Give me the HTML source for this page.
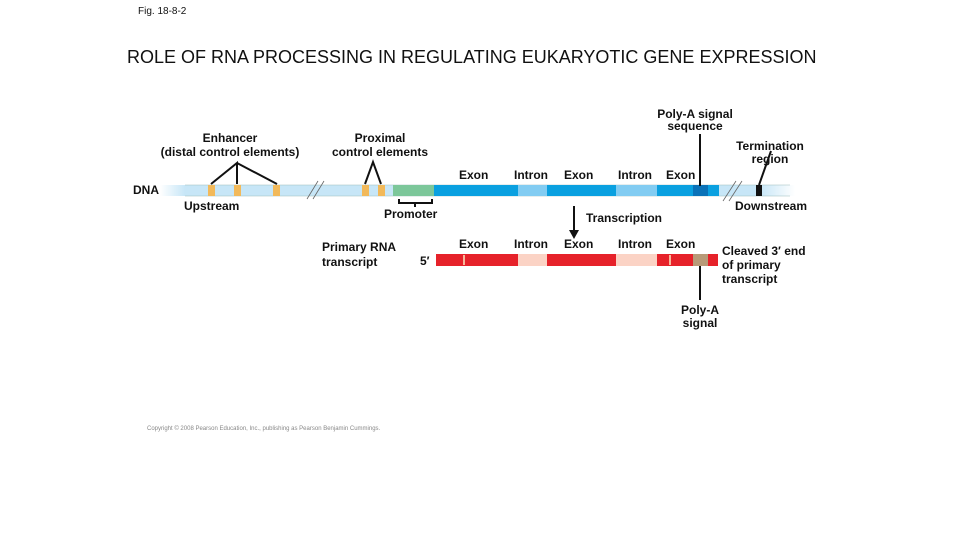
<!DOCTYPE html>
<html><head><style>
body{margin:0;width:960px;height:540px;background:#fff;position:relative;overflow:hidden;font-family:"Liberation Sans",Arial,sans-serif}
.t{position:absolute;font-size:12px;color:#111;line-height:14px;white-space:nowrap;font-weight:bold}
.c{text-align:center}
.b{position:absolute}
</style></head><body>
<div class="t" style="left:138px;top:5px;font-size:10px;font-weight:normal">Fig. 18-8-2</div>
<div class="t" style="left:127px;top:47px;font-size:18px;line-height:20px;font-weight:normal">ROLE OF RNA PROCESSING IN REGULATING EUKARYOTIC GENE EXPRESSION</div>

<div class="t c" style="left:150px;top:131px;width:160px">Enhancer<br>(distal control elements)</div>
<div class="t c" style="left:320px;top:131px;width:120px">Proximal<br>control elements</div>
<div class="t c" style="left:640px;top:108px;width:110px;line-height:12px">Poly-A signal<br>sequence</div>
<div class="t c" style="left:730px;top:140px;width:80px;line-height:13px">Termination<br>region</div>
<div class="t" style="left:459px;top:168px">Exon</div>
<div class="t" style="left:514px;top:168px">Intron</div>
<div class="t" style="left:564px;top:168px">Exon</div>
<div class="t" style="left:618px;top:168px">Intron</div>
<div class="t" style="left:666px;top:168px">Exon</div>
<div class="t" style="left:133px;top:183px">DNA</div>
<div class="t" style="left:184px;top:199px">Upstream</div>
<div class="t" style="left:384px;top:207px">Promoter</div>
<div class="t" style="left:735px;top:199px">Downstream</div>
<div class="t" style="left:586px;top:211px">Transcription</div>
<div class="t" style="left:459px;top:237px">Exon</div>
<div class="t" style="left:514px;top:237px">Intron</div>
<div class="t" style="left:564px;top:237px">Exon</div>
<div class="t" style="left:618px;top:237px">Intron</div>
<div class="t" style="left:666px;top:237px">Exon</div>
<div class="t" style="left:322px;top:240px;line-height:15px">Primary RNA<br>transcript</div>
<div class="t" style="left:420px;top:254px">5′</div>
<div class="t" style="left:722px;top:244px;line-height:14px">Cleaved 3′ end<br>of primary<br>transcript</div>
<div class="t c" style="left:670px;top:304px;width:60px;line-height:13px">Poly-A<br>signal</div>
<div class="t" style="left:147px;top:422px;font-size:6px;color:#888;font-weight:normal">Copyright © 2008 Pearson Education, Inc., publishing as Pearson Benjamin Cummings.</div>

<svg class="b" style="left:0;top:0" width="960" height="540">
<defs>
<linearGradient id="lf" x1="0" x2="1"><stop offset="0" stop-color="#c7e6f7" stop-opacity="0"/><stop offset="1" stop-color="#c7e6f7"/></linearGradient>
<linearGradient id="rf" x1="0" x2="1"><stop offset="0" stop-color="#c7e6f7"/><stop offset="1" stop-color="#c7e6f7" stop-opacity="0"/></linearGradient>
</defs>
<rect x="160" y="185" width="25" height="11" fill="url(#lf)"/>
<rect x="185" y="185" width="535" height="11" fill="#c7e6f7"/>
<rect x="760" y="185" width="35" height="11" fill="url(#rf)"/>
<rect x="720" y="185" width="40" height="11" fill="#c7e6f7"/>
<line x1="185" y1="185" x2="790" y2="185" stroke="#9bb" stroke-width="0.6"/>
<line x1="185" y1="196" x2="790" y2="196" stroke="#9bb" stroke-width="0.6"/>
<rect x="208" y="185" width="7" height="11" fill="#f2b95a"/>
<rect x="234" y="185" width="7" height="11" fill="#f2b95a"/>
<rect x="273" y="185" width="7" height="11" fill="#f2b95a"/>
<rect x="362" y="185" width="7" height="11" fill="#f2b95a"/>
<rect x="378" y="185" width="7" height="11" fill="#f2b95a"/>
<rect x="393" y="185" width="41" height="11" fill="#7cc79a"/>
<rect x="434" y="185" width="285" height="11" fill="#0aa0e0"/>
<rect x="518" y="185" width="29" height="11" fill="#82ccf2"/>
<rect x="616" y="185" width="41" height="11" fill="#82ccf2"/>
<rect x="693" y="185" width="15" height="11" fill="#0a72b8"/>
<rect x="756" y="185" width="6" height="11" fill="#111"/>
<line x1="307" y1="199" x2="318" y2="181" stroke="#666" stroke-width="0.8"/>
<line x1="313" y1="199" x2="324" y2="181" stroke="#666" stroke-width="0.8"/>
<line x1="723" y1="201" x2="736" y2="181" stroke="#666" stroke-width="0.8"/>
<line x1="729" y1="201" x2="742" y2="181" stroke="#666" stroke-width="0.8"/>
<g stroke="#111" stroke-width="2" fill="none">
<polyline points="211,184 237,163 237,184"/>
<line x1="237" y1="163" x2="277" y2="184"/>
<polyline points="365,184 373,162 381,184"/>
<path d="M399,199 v4 h33 v-4 M415,203 v4"/>
<line x1="700" y1="134" x2="700" y2="186"/>
<line x1="771" y1="151" x2="759" y2="185"/>
<line x1="700" y1="266" x2="700" y2="300"/>
<line x1="574" y1="206" x2="574" y2="232"/>
</g>
<polygon points="569,230 579,230 574,239" fill="#111"/>
<rect x="436" y="254" width="282" height="12" fill="#e6222a"/>
<rect x="518" y="254" width="29" height="12" fill="#fbd3c5"/>
<rect x="616" y="254" width="41" height="12" fill="#fbd3c5"/>
<rect x="463" y="255" width="2" height="10" fill="#f7b79a"/>
<rect x="669" y="255" width="2" height="10" fill="#f7b79a"/>
<rect x="693" y="254" width="15" height="12" fill="#b89a78"/>
</svg>
</body></html>
